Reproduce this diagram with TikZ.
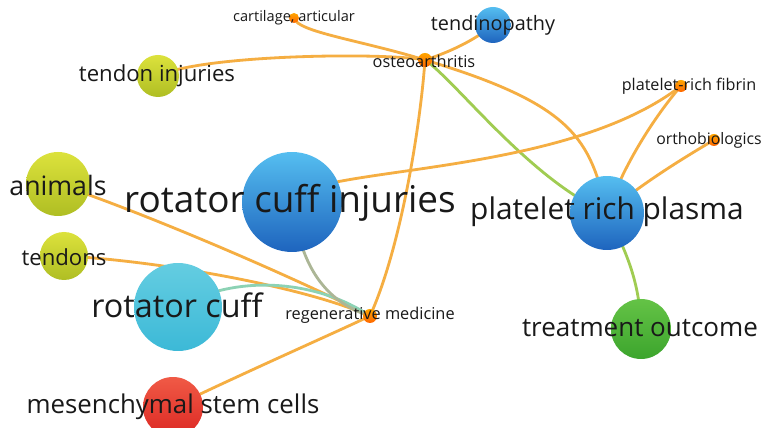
\documentclass[tikz,border=0pt]{standalone}
\usepackage{fontspec}
\setmainfont{Open Sans}
\usetikzlibrary{backgrounds}

\definecolor{linkorange}{RGB}{245,174,66}
\definecolor{linkgreen}{RGB}{160,204,82}
\definecolor{linkteal}{RGB}{140,210,180}
\definecolor{linkgrey}{RGB}{172,182,150}

\begin{document}
\begin{tikzpicture}[x=0.02cm, y=-0.02cm,
    bubble/.style={circle, inner sep=0pt, minimum size=#1},
    dotnode/.style={bubble=#1, top color=orange!70!yellow, bottom color=orange!80!red},
    yellowball/.style={bubble=#1, top color={rgb,255:red,220;green,226;blue,60}, bottom color={rgb,255:red,175;green,190;blue,35}},
    blueball/.style={bubble=#1, top color={rgb,255:red,85;green,190;blue,240}, bottom color={rgb,255:red,30;green,100;blue,190}},
    lbl/.style={inner sep=0pt, text=black!90},
    link/.style={line width=1.6pt, linkorange}]
        \useasboundingbox (0,0) rectangle (762,428);

        % Nodes for the keywords
        \node[dotnode=0.2cm] (cart) at (294,18) {};
        \node[dotnode=0.28cm] (oa) at (425,60) {};
        \node[blueball=0.72cm] (tpathy) at (493,25) {};
        \node[yellowball=0.84cm] (tinj) at (158,76) {};
        \node[dotnode=0.24cm] (prf) at (681,86) {};
        \node[dotnode=0.24cm] (ortho) at (714,140) {};
        \node[yellowball=1.28cm] (animals) at (58,184) {};
        \node[blueball=2cm] (rci) at (292,202) {};
        \node[blueball=1.48cm] (prp) at (607,213) {};
        \node[yellowball=0.96cm] (tendons) at (64,256) {};
        \node[bubble=1.76cm, top color={rgb,255:red,100;green,205;blue,225}, bottom color={rgb,255:red,60;green,185;blue,215}] (rc) at (178,307) {};
        \node[dotnode=0.28cm] (regen) at (370,316) {};
        \node[bubble=1.2cm, top color={rgb,255:red,100;green,195;blue,70}, bottom color={rgb,255:red,60;green,165;blue,45}] (outcome) at (641,329) {};
        \node[bubble=1.2cm, top color={rgb,255:red,240;green,90;blue,70}, bottom color={rgb,255:red,220;green,40;blue,35}] (msc) at (173,407) {};

        % Links
        \begin{scope}[on background layer]
            \fill[white] (0,0) rectangle (762,428);
            \draw[link] (cart.center) .. controls (297,32) and (360,40) .. (oa.center);
            \draw[link] (tinj.center) .. controls (200,55) and (380,52) .. (oa.center);
            \draw[link] (oa.center) .. controls (450,52) and (475,40) .. (tpathy.center);
            \draw[link] (oa.center) .. controls (575,105) and (590,140) .. (prp.center);
            \draw[link, linkgreen] (oa.center) .. controls (455,80) and (530,180) .. (prp.center);
            \draw[link] (oa.center) .. controls (420,130) and (400,250) .. (regen.center);
            \draw[link] (rci.center) .. controls (300,165) and (560,180) .. (prf.center);
            \draw[link] (prf.center) .. controls (660,110) and (625,160) .. (prp.center);
            \draw[link] (ortho.center) .. controls (680,160) and (640,185) .. (prp.center);
            \draw[link, linkgreen] (prp.center) .. controls (625,250) and (640,280) .. (outcome.center);
            \draw[link] (animals.center) .. controls (150,215) and (300,280) .. (regen.center);
            \draw[link] (tendons.center) .. controls (150,260) and (300,285) .. (regen.center);
            \draw[link, linkteal] (rc.center) .. controls (240,272) and (320,282) .. (regen.center);
            \draw[link, linkgrey] (rci.center) .. controls (300,260) and (320,300) .. (regen.center);
            \draw[link] (msc.center) .. controls (250,370) and (330,335) .. (regen.center);
        \end{scope}

        % Labels on top
        \node[lbl, font=\fontsize{8.3}{9}\selectfont] (cart-t) at (294,18) {cartilage, articular};
        \node[lbl, font=\fontsize{9.3}{10}\selectfont] (oa-t) at (424,61) {osteoarthritis};
        \node[lbl, font=\fontsize{11.3}{12}\selectfont] (tpathy-t) at (493,25) {tendinopathy};
        \node[lbl, font=\fontsize{12.6}{13}\selectfont] (tinj-t) at (157,76) {tendon injuries};
        \node[lbl, font=\fontsize{9.2}{10}\selectfont] (prf-t) at (689,86) {platelet-rich fibrin};
        \node[lbl, font=\fontsize{9}{10}\selectfont] (ortho-t) at (709,140) {orthobiologics};
        \node[lbl, font=\fontsize{15.2}{16}\selectfont] (animals-t) at (58,185) {animals};
        \node[lbl, font=\fontsize{21}{22}\selectfont] (rci-t) at (290,203) {rotator cuff injuries};
        \node[lbl, font=\fontsize{17}{18}\selectfont] (prp-t) at (607,212) {platelet rich plasma};
        \node[lbl, font=\fontsize{12.6}{13}\selectfont] (tendons-t) at (64,257) {tendons};
        \node[lbl, font=\fontsize{18.4}{19}\selectfont] (rc-t) at (177,305) {rotator cuff};
        \node[lbl, font=\fontsize{9.3}{10}\selectfont] (regen-t) at (370,315) {regenerative medicine};
        \node[lbl, font=\fontsize{14.8}{16}\selectfont] (outcome-t) at (640,328) {treatment outcome};
        \node[lbl, font=\fontsize{14.7}{15}\selectfont] (msc-t) at (173,407) {mesenchymal stem cells};
    \end{tikzpicture}
\end{document}
